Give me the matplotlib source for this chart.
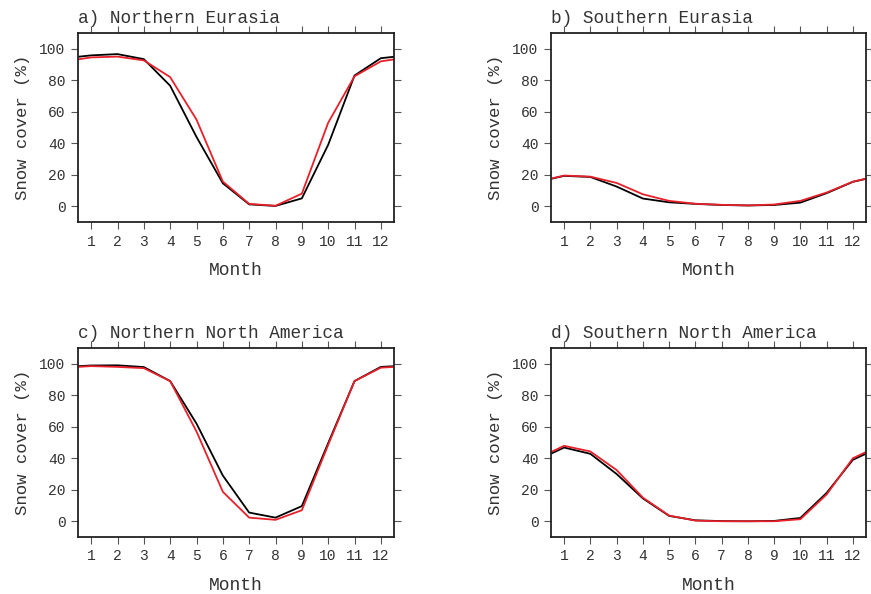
import matplotlib.pyplot as plt
import numpy as np

months = list(range(1, 13))

titles = ['a) Northern Eurasia', 'b) Southern Eurasia',
          'c) Northern North America', 'd) Southern North America']

black_a = [95.8, 96.6, 93.4, 76.5, 44, 14.6, 1.2, 0.2, 5, 39, 83, 94]
red_a = [94.5, 95, 92.6, 82, 55, 15.7, 1.5, 0.3, 8, 53, 82.5, 92]

black_b = [19.3, 18.6, 12.5, 4.9, 2.5, 1.5, 0.8, 0.5, 0.8, 2.3, 8.3, 15.5]
red_b = [19.5, 18.8, 14.8, 7.6, 3.4, 1.6, 0.9, 0.5, 1.1, 3.4, 8.7, 15.6]

black_c = [98.9, 99, 97.9, 89, 62, 29, 5.5, 2.3, 9.6, 49.6, 89, 98]
red_c = [98.5, 98, 97.2, 89, 57, 18.7, 2.3, 0.9, 7, 48.5, 89, 97.5]

black_d = [46.8, 42.8, 30, 14.5, 3.4, 0.6, 0.1, 0, 0.2, 2.1, 18, 39]
red_d = [47.9, 44.3, 32.5, 15, 3.6, 0.4, 0, 0, 0, 1.3, 17, 40]

series = [(black_a, red_a), (black_b, red_b), (black_c, red_c), (black_d, red_d)]

plt.rcParams['font.family'] = ['Liberation Mono', 'DejaVu Sans Mono']
txt = '#333333'
red = '#e8202a'

fig = plt.figure(figsize=(8.71, 5.94), dpi=100)

W, H = 871, 594
boxes = [(78, 33, 394, 222), (551, 33, 866, 222),
         (78, 348, 394, 537), (551, 348, 866, 537)]

def cyclic(vals):
    # wrap Dec before Jan and Jan after Dec so the line runs to the frame
    return [0] + months + [13], [vals[-1]] + list(vals) + [vals[0]]

for (l, t, r, b), title, (blk, rd) in zip(boxes, titles, series):
    ax = fig.add_axes([l / W, 1 - b / H, (r - l) / W, (b - t) / H])
    x, y = cyclic(blk)
    ax.plot(x, y, color='black', lw=1.3)
    x, y = cyclic(rd)
    ax.plot(x, y, color=red, lw=1.3)
    ax.set_xlim(0.5, 12.5)
    ax.set_ylim(-10, 110)
    ax.set_xticks(months)
    ax.set_yticks([0, 20, 40, 60, 80, 100])
    ax.tick_params(direction='out', length=5, width=0.8, colors='#555555',
                   labelcolor=txt, labelsize=10.5, pad=4,
                   top=True, right=True)
    for s in ax.spines.values():
        s.set_linewidth(1.3)
        s.set_color('#222222')
    ax.set_xlabel('Month', fontsize=13, color=txt, labelpad=10)
    ax.set_ylabel('Snow cover (%)', fontsize=12.5, color=txt, labelpad=7)
    ax.set_title(title, loc='left', fontsize=12.8, color=txt, pad=7)

fig.savefig('out.png', dpi=100)
